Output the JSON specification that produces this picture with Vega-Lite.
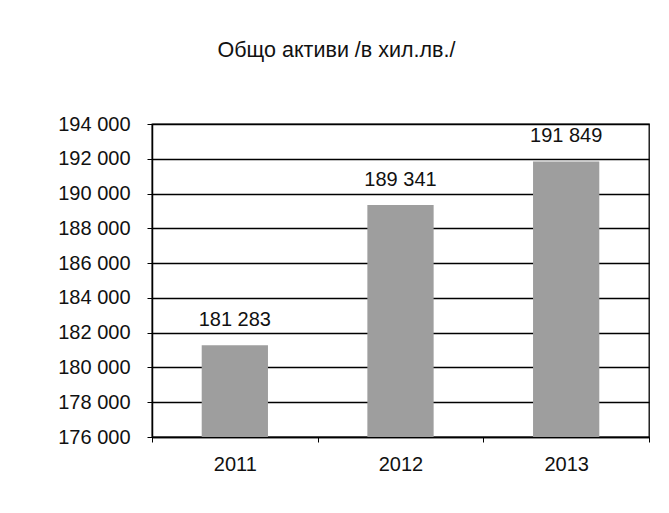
{
  "$schema": "https://vega.github.io/schema/vega-lite/v6.json",
  "width": 497,
  "height": 313,
  "autosize": "none",
  "padding": {"left": 152, "top": 124, "right": 20, "bottom": 76},
  "background": "white",
  "data": {"values": [
    {"year": "2011", "value": 181283},
    {"year": "2012", "value": 189341},
    {"year": "2013", "value": 191849}
  ]},
  "title": {
    "text": "Общо активи /в хил.лв./",
    "font": "Liberation Sans",
    "fontSize": 21.5,
    "fontWeight": "normal",
    "color": "#111",
    "anchor": "middle",
    "dx": -64,
    "offset": 53
  },
  "encoding": {
    "x": {
      "field": "year", "type": "nominal",
      "scale": {"paddingInner": 0, "paddingOuter": 0},
      "axis": {
        "title": null, "labelAngle": 0, "tickBand": "extent",
        "tickSize": 5, "tickColor": "#000", "domainColor": "#000", "domainWidth": 1.5,
        "labelFont": "Liberation Sans", "labelFontSize": 20, "labelColor": "#111",
        "labelPadding": 12, "grid": false
      }
    },
    "y": {
      "field": "value", "type": "quantitative",
      "scale": {"domain": [176000, 194000], "zero": false, "nice": false},
      "axis": {
        "title": null, "values": [176000,178000,180000,182000,184000,186000,188000,190000,192000,194000],
        "format": ",d", "tickSize": 5, "tickColor": "#000",
        "domainColor": "#000", "domainWidth": 1.5,
        "grid": true, "gridColor": "#000", "gridWidth": 1.3, "gridOpacity": 1,
        "labelFont": "Liberation Sans", "labelFontSize": 20, "labelColor": "#111",
        "labelPadding": 17
      }
    }
  },
  "layer": [
    {"mark": {"type": "bar", "width": {"band": 0.4}, "color": "#9e9e9e", "clip": true}},
    {"mark": {"type": "text", "dy": -25, "baseline": "middle", "font": "Liberation Sans", "fontSize": 20, "color": "#111"},
     "encoding": {"text": {"field": "value", "type": "quantitative", "format": ",d"}}}
  ],
  "config": {
    "locale": {"number": {"decimal": ",", "thousands": " ", "grouping": [3], "currency": ["", ""]}},
    "view": {"stroke": "#000", "strokeWidth": 1.3}
  }
}
